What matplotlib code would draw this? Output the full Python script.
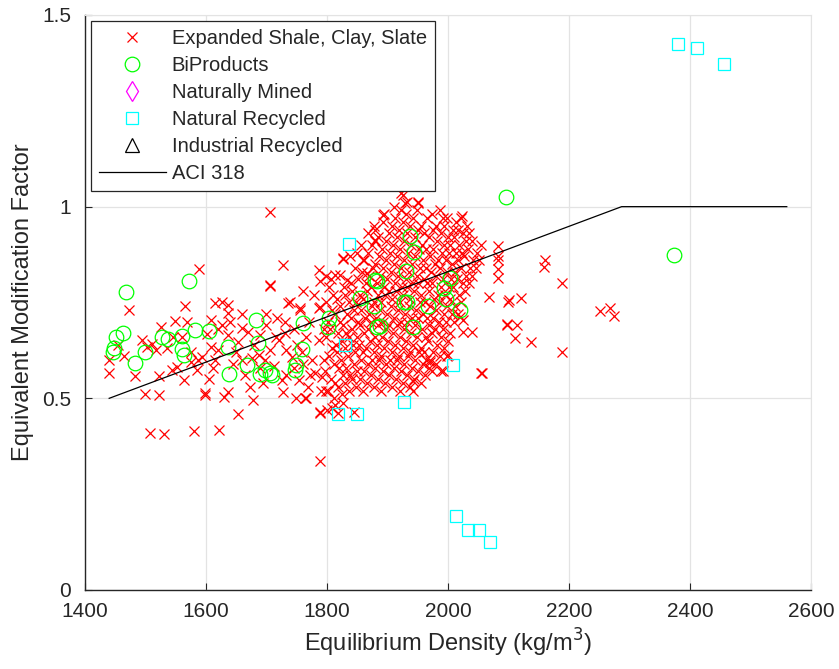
import matplotlib
matplotlib.use("Agg")
import matplotlib.pyplot as plt

plt.rcParams['font.family'] = ['Liberation Sans', 'DejaVu Sans']

# Expanded shale, clay, slate: (density, factor)
esc_left = [
    (1589, 0.837), (1472, 0.730), (1565, 0.741), (1728, 0.848), (1706, 0.796), (1786, 0.835),
    (1706, 0.987), (1705, 0.793), (1439, 0.600), (1439, 0.567), (1483, 0.558), (1499, 0.511),
    (1522, 0.509), (1522, 0.558), (1507, 0.410), (1531, 0.407), (1581, 0.415), (1622, 0.417),
    (1653, 0.459), (1598, 0.515), (1599, 0.509), (1630, 0.504), (1636, 0.517), (1678, 0.495),
    (1728, 0.517), (1764, 0.502), (1788, 0.462), (1494, 0.652), (1502, 0.635), (1510, 0.643),
    (1518, 0.626), (1526, 0.687), (1548, 0.703), (1535, 0.630), (1544, 0.574), (1552, 0.582),
    (1563, 0.548), (1576, 0.596), (1587, 0.600), (1593, 0.609), (1608, 0.635), (1608, 0.704),
    (1615, 0.748), (1626, 0.752), (1637, 0.743), (1637, 0.723), (1626, 0.691), (1637, 0.665),
    (1659, 0.683), (1670, 0.674), (1659, 0.600), (1676, 0.604), (1687, 0.613), (1698, 0.600),
    (1706, 0.626), (1731, 0.700), (1736, 0.748), (1755, 0.730), (1720, 0.652), (1731, 0.670),
    (1733, 0.626), (1742, 0.609), (1725, 0.548), (1733, 0.561), (1753, 0.548), (1775, 0.600),
    (1786, 0.652), (1786, 0.735), (1780, 0.565), (1791, 0.556), (1653, 0.648), (1615, 0.600),
    (1620, 0.626), (1601, 0.669), (1739, 0.752), (1755, 0.735), (1788, 0.739), (1788, 0.805),
    (1560, 0.660), (1575, 0.620), (1585, 0.575), (1612, 0.580), (1645, 0.590), (1650, 0.620),
    (1665, 0.560), (1680, 0.640), (1690, 0.665), (1700, 0.690), (1712, 0.585), (1715, 0.660),
    (1745, 0.680), (1750, 0.640), (1760, 0.590), (1765, 0.660), (1770, 0.700), (1772, 0.560),
    (1778, 0.770), (1795, 0.600), (1795, 0.680), (1760, 0.780), (1745, 0.580), (1695, 0.540),
    (1640, 0.700), (1660, 0.720), (1568, 0.700), (1545, 0.660), (1455, 0.640), (1465, 0.610),
    (1605, 0.550), (1620, 0.680), (1700, 0.720), (1718, 0.710), (1758, 0.620), (1768, 0.530),
    (1790, 0.520), (1748, 0.500), (1690, 0.580), (1672, 0.530),
]

esc_core = [
    (1801, 0.52), (1797, 0.57), (1803, 0.61), (1799, 0.66), (1802, 0.70), (1798, 0.75), (1804, 0.79),
    (1807, 0.55), (1809, 0.63), (1805, 0.68), (1808, 0.73), (1806, 0.81), (1799, 0.82),
    (1812, 0.50), (1814, 0.54), (1811, 0.59), (1815, 0.64), (1813, 0.72), (1810, 0.77),
    (1818, 0.53), (1820, 0.58), (1817, 0.62), (1819, 0.67), (1821, 0.70), (1816, 0.76),
    (1824, 0.51), (1826, 0.56), (1823, 0.60), (1825, 0.65), (1827, 0.69), (1822, 0.74), (1828, 0.79),
    (1830, 0.54), (1832, 0.58), (1829, 0.63), (1831, 0.67), (1833, 0.72), (1830, 0.77),
    (1836, 0.52), (1838, 0.56), (1835, 0.61), (1837, 0.66), (1839, 0.71), (1836, 0.75), (1840, 0.80), (1838, 0.87),
    (1842, 0.55), (1844, 0.59), (1843, 0.64), (1841, 0.68), (1845, 0.73), (1842, 0.78), (1846, 0.84),
    (1848, 0.53), (1850, 0.57), (1847, 0.62), (1849, 0.66), (1851, 0.70), (1848, 0.75), (1852, 0.81), (1850, 0.88),
    (1854, 0.55), (1856, 0.60), (1853, 0.64), (1855, 0.69), (1857, 0.73), (1854, 0.77), (1858, 0.83), (1856, 0.90),
    (1860, 0.52), (1862, 0.57), (1859, 0.62), (1861, 0.67), (1863, 0.71), (1860, 0.76), (1864, 0.80), (1862, 0.86),
    (1866, 0.54), (1868, 0.59), (1865, 0.63), (1867, 0.68), (1869, 0.72), (1866, 0.78), (1870, 0.82), (1868, 0.88), (1867, 0.93),
    (1872, 0.56), (1874, 0.60), (1871, 0.65), (1873, 0.70), (1875, 0.74), (1872, 0.79), (1876, 0.84), (1874, 0.90),
    (1878, 0.53), (1880, 0.58), (1877, 0.62), (1879, 0.66), (1881, 0.71), (1878, 0.75), (1882, 0.80), (1880, 0.85), (1879, 0.91), (1877, 0.95),
    (1884, 0.55), (1886, 0.60), (1883, 0.64), (1885, 0.69), (1887, 0.73), (1884, 0.77), (1888, 0.82), (1886, 0.87), (1885, 0.92),
    (1890, 0.52), (1892, 0.57), (1889, 0.61), (1891, 0.66), (1893, 0.70), (1890, 0.75), (1894, 0.79), (1892, 0.84), (1891, 0.89), (1893, 0.96),
    (1896, 0.54), (1898, 0.59), (1895, 0.63), (1897, 0.68), (1899, 0.72), (1896, 0.77), (1900, 0.81), (1898, 0.86), (1897, 0.91), (1895, 0.98),
    (1902, 0.56), (1904, 0.60), (1901, 0.65), (1903, 0.69), (1905, 0.74), (1902, 0.78), (1906, 0.83), (1904, 0.88), (1903, 0.93),
    (1908, 0.53), (1910, 0.58), (1907, 0.62), (1909, 0.67), (1911, 0.71), (1908, 0.76), (1912, 0.80), (1910, 0.85), (1909, 0.90), (1907, 0.95), (1911, 1.00),
    (1914, 0.55), (1916, 0.60), (1913, 0.64), (1915, 0.69), (1917, 0.73), (1914, 0.78), (1918, 0.82), (1916, 0.87), (1915, 0.92), (1913, 0.97),
    (1920, 0.52), (1922, 0.57), (1919, 0.61), (1921, 0.66), (1923, 0.70), (1920, 0.75), (1924, 0.79), (1922, 0.84), (1921, 0.89), (1919, 0.94), (1923, 0.99), (1925, 1.03),
    (1926, 0.54), (1928, 0.59), (1925, 0.63), (1927, 0.68), (1929, 0.72), (1926, 0.77), (1930, 0.81), (1928, 0.86), (1927, 0.91), (1925, 0.96), (1929, 1.01),
    (1932, 0.56), (1934, 0.61), (1931, 0.65), (1933, 0.70), (1935, 0.74), (1932, 0.79), (1936, 0.83), (1934, 0.88), (1933, 0.93), (1931, 0.98),
    (1938, 0.53), (1940, 0.58), (1937, 0.62), (1939, 0.67), (1941, 0.71), (1938, 0.76), (1942, 0.80), (1940, 0.85), (1939, 0.90), (1937, 0.95),
    (1944, 0.55), (1946, 0.60), (1943, 0.64), (1945, 0.69), (1947, 0.73), (1944, 0.78), (1948, 0.82), (1946, 0.87), (1945, 0.92), (1943, 0.97), (1950, 1.01),
    (1950, 0.57), (1952, 0.62), (1949, 0.66), (1951, 0.71), (1953, 0.75), (1950, 0.80), (1954, 0.84), (1952, 0.89), (1951, 0.94), (1949, 0.99),
    (1956, 0.54), (1958, 0.59), (1955, 0.63), (1957, 0.68), (1959, 0.72), (1956, 0.77), (1960, 0.81), (1958, 0.86), (1957, 0.90), (1955, 0.95),
    (1962, 0.56), (1964, 0.60), (1961, 0.62), (1963, 0.66), (1965, 0.71), (1962, 0.75), (1966, 0.80), (1964, 0.84), (1963, 0.89), (1961, 0.93), (1965, 0.97),
    (1968, 0.58), (1970, 0.60), (1967, 0.65), (1969, 0.69), (1971, 0.74), (1968, 0.78), (1972, 0.83), (1970, 0.87), (1969, 0.92),
    (1974, 0.57), (1976, 0.62), (1973, 0.67), (1975, 0.71), (1977, 0.76), (1974, 0.80), (1978, 0.85), (1976, 0.89), (1975, 0.94), (1973, 0.98),
    (1980, 0.59), (1982, 0.64), (1979, 0.68), (1981, 0.73), (1983, 0.77), (1980, 0.82), (1984, 0.86), (1982, 0.91), (1981, 0.95),
    (1986, 0.61), (1988, 0.66), (1985, 0.70), (1987, 0.75), (1989, 0.79), (1986, 0.84), (1990, 0.88), (1988, 0.93), (1987, 0.99),
    (1992, 0.57), (1994, 0.63), (1991, 0.68), (1993, 0.72), (1995, 0.77), (1992, 0.81), (1996, 0.86), (1994, 0.90), (1993, 0.95),
    (1998, 0.61), (2000, 0.65), (1997, 0.70), (1999, 0.74), (2001, 0.79), (1998, 0.83), (2002, 0.88), (2000, 0.92), (1999, 0.97),
    (2004, 0.67), (2006, 0.72), (2003, 0.76), (2005, 0.81), (2007, 0.85), (2004, 0.90), (2008, 0.94),
    (2010, 0.70), (2012, 0.74), (2009, 0.79), (2011, 0.83), (2013, 0.88), (2010, 0.92), (2014, 0.96),
    (2016, 0.72), (2018, 0.77), (2015, 0.81), (2017, 0.86), (2019, 0.90), (2016, 0.94),
    (2022, 0.75), (2024, 0.80), (2021, 0.84), (2023, 0.88), (2025, 0.93), (2022, 0.97),
    (2028, 0.78), (2030, 0.82), (2027, 0.87), (2029, 0.91), (2031, 0.95),
    (2034, 0.80), (2036, 0.84), (2033, 0.89), (2035, 0.93),
    (2040, 0.82), (2042, 0.86), (2039, 0.91), (2046, 0.84), (2048, 0.88), (2052, 0.86), (2054, 0.90),
]

esc_edge = [
    (1860, 0.861), (1866, 0.826), (1879, 0.913), (1879, 0.940), (1826, 0.863), (1821, 0.822),
    (1833, 0.809), (1827, 0.865), (1813, 0.822), (1923, 1.035), (1932, 1.013), (1951, 1.013),
    (1893, 0.978), (2023, 0.976), (1992, 0.970), (1765, 0.500), (1788, 0.465), (1808, 0.474),
    (1827, 0.489), (1819, 0.461), (1844, 0.465), (1788, 0.336), (1798, 0.520), (1813, 0.483),
    (1800, 0.470), (1942, 0.544), (1942, 0.518), (1970, 0.596), (1989, 0.570), (2000, 0.613),
    (2025, 0.674), (2039, 0.674), (2020, 0.713), (2025, 0.704), (2055, 0.566),
]

esc_right = [
    (2083, 0.898), (2083, 0.861), (2083, 0.837), (2083, 0.813), (2083, 0.870), (2067, 0.764),
    (2101, 0.757), (2100, 0.750), (2120, 0.761), (2160, 0.861), (2159, 0.842), (2188, 0.802),
    (2098, 0.694), (2114, 0.692), (2111, 0.657), (2138, 0.648), (2188, 0.622), (2252, 0.729),
    (2268, 0.735), (2274, 0.715), (2057, 0.565), (2097, 0.692),
]

# BiProducts
bp_x = [1468, 1572, 1463, 1452, 1448, 1447, 1483, 1500, 1527, 1538, 1561, 1560, 1563, 1582,
        1605, 1637, 1638, 1683, 1686, 1667, 1689, 1698, 1706, 1709, 1761, 1759, 1747, 1748,
        1804, 1802, 1855, 1877, 1879, 1882, 2096, 1937, 1944, 1931, 1883, 1927, 1933, 1967,
        2003, 1993, 1997, 2020, 1888, 1942, 2374]
bp_y = [0.778, 0.806, 0.670, 0.661, 0.630, 0.622, 0.593, 0.622, 0.659, 0.654, 0.663, 0.628,
        0.613, 0.677, 0.676, 0.633, 0.563, 0.704, 0.645, 0.587, 0.564, 0.574, 0.565, 0.561,
        0.696, 0.628, 0.574, 0.587, 0.710, 0.687, 0.761, 0.741, 0.809, 0.687, 1.026, 0.924,
        0.883, 0.833, 0.807, 0.752, 0.750, 0.741, 0.813, 0.787, 0.758, 0.731, 0.689, 0.687,
        0.874]

# Natural recycled
nr_x = [2380, 2411, 2457, 1837, 1830, 2009, 1927, 1819, 1849, 2014, 2033, 2051, 2069]
nr_y = [1.424, 1.413, 1.373, 0.902, 0.639, 0.586, 0.490, 0.459, 0.459, 0.194, 0.157, 0.157, 0.124]

# ACI 318 relation
aci_x = [1440, 2287, 2560]
aci_y = [0.5, 1.0, 1.0]

esc = esc_left + esc_core + esc_edge + esc_right
esc_x = [p[0] for p in esc]
esc_y = [p[1] for p in esc]

dark = '#262626'
fig = plt.figure(figsize=(8.39, 6.69), dpi=100)
ax = fig.add_axes([0.1013, 0.1181, 0.8653, 0.8595])

ax.plot(esc_x, esc_y, 'x', color='#ff0000', ms=7, mew=0.9, ls='none',
        label='Expanded Shale, Clay, Slate')
ax.plot(bp_x, bp_y, 'o', mfc='none', mec='#00ff00', ms=10.5, mew=0.9, ls='none',
        label='BiProducts')
ax.plot([], [], 'd', mfc='none', mec='#ff00ff', ms=10, mew=0.9, ls='none',
        label='Naturally Mined')
ax.plot(nr_x, nr_y, 's', mfc='none', mec='#00ffff', ms=8, mew=0.9, ls='none',
        label='Natural Recycled')
ax.plot([], [], '^', mfc='none', mec='black', ms=10, mew=0.9, ls='none',
        label='Industrial Recycled')
ax.plot(aci_x, aci_y, '-', color='black', lw=0.9, label='ACI 318')

ax.set_xlim(1400, 2600)
ax.set_ylim(0, 1.5)
ax.set_xticks([1400, 1600, 1800, 2000, 2200, 2400, 2600])
ax.set_yticks([0, 0.5, 1, 1.5])
ax.set_yticklabels(['0', '0.5', '1', '1.5'])
ax.grid(True, color='#e3e3e3', lw=0.9)
ax.set_axisbelow(True)
for s in ['top', 'right']:
    ax.spines[s].set_color('#e3e3e3')
for s in ['left', 'bottom']:
    ax.spines[s].set_color(dark)
    ax.spines[s].set_linewidth(1.0)
ax.tick_params(direction='in', length=5, width=0.8, colors=dark, labelsize=15,
               top=False, right=False)
ax.tick_params(axis='x', pad=9)
ax.tick_params(axis='y', pad=10)

ax.set_xlabel('Equilibrium Density (kg/m$^3$)', fontsize=17, color=dark, labelpad=4)
ax.set_ylabel('Equivalent Modification Factor', fontsize=17, color=dark, labelpad=6)

leg = ax.legend(loc='upper left', fontsize=14.5, fancybox=False, framealpha=1,
                edgecolor=dark, borderaxespad=0.3, handlelength=3.3,
                handletextpad=0.3, labelspacing=0.4, borderpad=0.4)
leg.get_frame().set_linewidth(0.9)
for t in leg.get_texts():
    t.set_color(dark)

fig.savefig('out.png', dpi=100)
